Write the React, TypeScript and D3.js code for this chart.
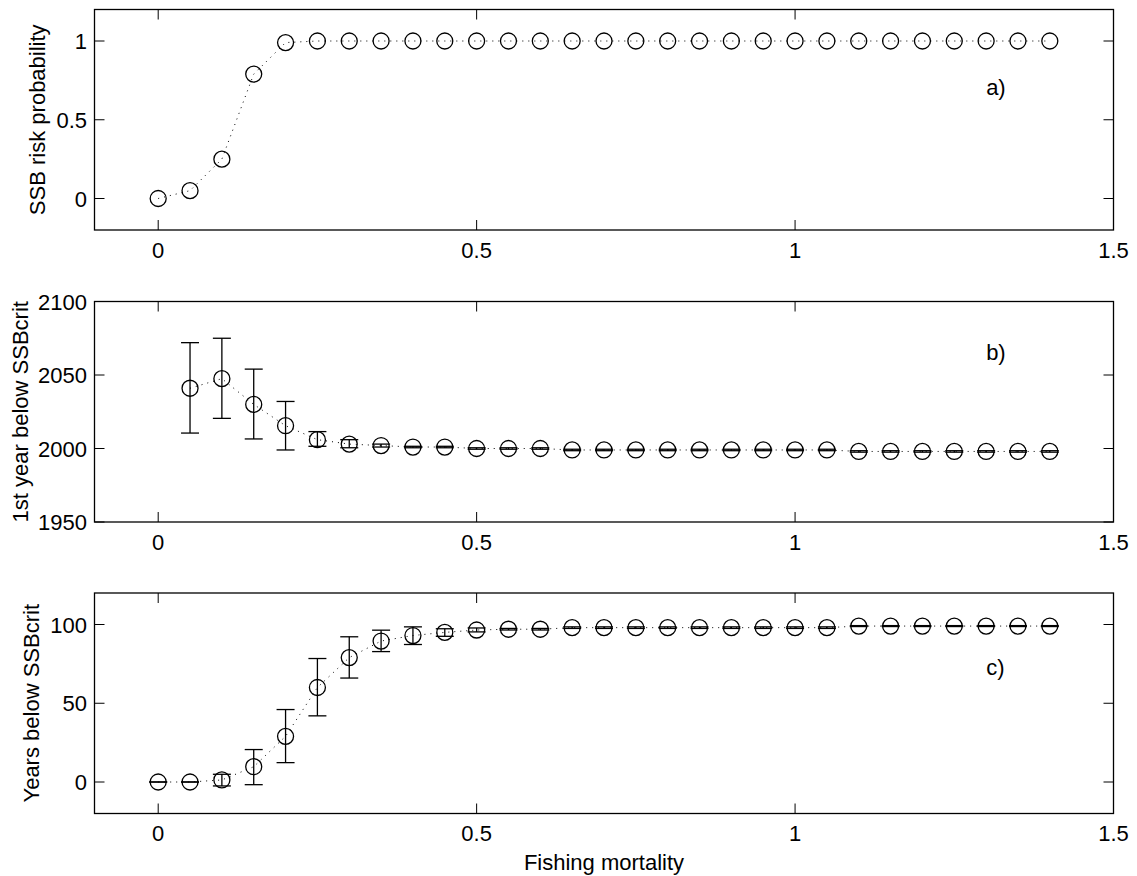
import React from "react";
import * as d3 from "d3";

const fishingMortality = [0, 0.05, 0.1, 0.15, 0.2, 0.25, 0.3, 0.35, 0.4, 0.45, 0.5, 0.55, 0.6, 0.65, 0.7, 0.75, 0.8, 0.85, 0.9, 0.95, 1.0, 1.05, 1.1, 1.15, 1.2, 1.25, 1.3, 1.35, 1.4];

const riskProb = [0, 0.05, 0.25, 0.79, 0.99, 1, 1, 1, 1, 1, 1, 1, 1, 1, 1, 1, 1, 1, 1, 1, 1, 1, 1, 1, 1, 1, 1, 1, 1];

// first year below SSBcrit (starts at F = 0.05)
const firstYearF = fishingMortality.slice(1);
const firstYear = [2041, 2047.5, 2030, 2015.5, 2006, 2003, 2002, 2001, 2001, 2000, 2000, 2000, 1999, 1999, 1999, 1999, 1999, 1999, 1999, 1999, 1999, 1998, 1998, 1998, 1998, 1998, 1998, 1998];
const firstYearLo = [2010.5, 2020.5, 2006.5, 1999, 2001.5, 2000.5, 2001, 2000.5, 2000.5, 1999.5, 1999.5, 1999.5, 1998.5, 1998.5, 1998.5, 1998.5, 1998.5, 1998.5, 1998.5, 1998.5, 1998.5, 1997.5, 1997.5, 1997.5, 1997.5, 1997.5, 1997.5, 1997.5];
const firstYearHi = [2072, 2075, 2054, 2032, 2011.5, 2006, 2003, 2001.5, 2001.5, 2000.5, 2000.5, 2000.5, 1999.5, 1999.5, 1999.5, 1999.5, 1999.5, 1999.5, 1999.5, 1999.5, 1999.5, 1998.5, 1998.5, 1998.5, 1998.5, 1998.5, 1998.5, 1998.5];

const yearsBelow = [0, 0, 1.3, 9.7, 29, 60, 79, 89.5, 93, 95, 96.5, 97, 97, 98, 98, 98, 98, 98, 98, 98, 98, 98, 99, 99, 99, 99, 99, 99, 99];
const yearsBelowLo = [0, 0, -2.5, -1.7, 12.3, 42, 66, 82.8, 87.3, 92.5, 95.3, 96.5, 96.5, 97.5, 97.5, 97.5, 97.5, 97.5, 97.5, 97.5, 97.5, 97.5, 98.7, 98.7, 98.7, 98.7, 98.7, 98.7, 98.7];
const yearsBelowHi = [0, 0, 4.9, 20.6, 46, 78.4, 92.2, 96.4, 98.5, 97.3, 97.8, 97.5, 97.5, 98.5, 98.5, 98.5, 98.5, 98.5, 98.5, 98.5, 98.5, 98.5, 99.3, 99.3, 99.3, 99.3, 99.3, 99.3, 99.3];

const xTicks = [0, 0.5, 1, 1.5];
const xTickLabels = ["0", "0.5", "1", "1.5"];
const yTicksA = [0, 0.5, 1];
const yTicksB = [1950, 2000, 2050, 2100];
const yTicksC = [0, 50, 100];

const W = 1137;
const H = 876;
const LEFT = 94.5;
const RIGHT = 1113.5;
const PH = 220.5;
const FONT = "'Liberation Sans', Arial, Helvetica, sans-serif";
const FS = 22;
const TICK = 10;

type PanelProps = {
  top: number;
  yDomain: [number, number];
  yTicks: number[];
  xs: number[];
  ys: number[];
  lo?: number[];
  hi?: number[];
  ylabel: string;
  ylabelX: number;
  letter: string;
  letterY: number;
};

function Panel(p: PanelProps) {
  const x = d3.scaleLinear().domain([-0.1, 1.5]).range([LEFT, RIGHT]);
  const y = d3.scaleLinear().domain(p.yDomain).range([p.top + PH, p.top]);
  const bottom = p.top + PH;
  const line = d3
    .line<number>()
    .x((_, i) => x(p.xs[i]))
    .y((d) => y(d));
  const cap = 9;
  const r = 8;
  return (
    <g>
      <rect x={LEFT} y={p.top} width={RIGHT - LEFT} height={PH} fill="white" stroke="black" strokeWidth={1.3} />
      {xTicks.map((t) => (
        <g key={"xt" + t}>
          <line x1={x(t)} x2={x(t)} y1={bottom} y2={bottom - TICK} stroke="black" strokeWidth={1} />
          <line x1={x(t)} x2={x(t)} y1={p.top} y2={p.top + TICK} stroke="black" strokeWidth={1} />
        </g>
      ))}
      {xTicks.map((t, i) => (
        <text key={"xl" + t} x={x(t)} y={bottom + 27.5} textAnchor="middle" fontFamily={FONT} fontSize={FS}>
          {xTickLabels[i]}
        </text>
      ))}
      {p.yTicks.map((t) => (
        <g key={"yt" + t}>
          <line x1={LEFT} x2={LEFT + TICK} y1={y(t)} y2={y(t)} stroke="black" strokeWidth={1} />
          <line x1={RIGHT} x2={RIGHT - TICK} y1={y(t)} y2={y(t)} stroke="black" strokeWidth={1} />
          <text x={LEFT - 7.5} y={y(t) + 8} textAnchor="end" fontFamily={FONT} fontSize={FS}>
            {String(t)}
          </text>
        </g>
      ))}
      <path d={line(p.ys) || ""} fill="none" stroke="black" strokeWidth={1} strokeDasharray="1 5" />
      {p.lo &&
        p.hi &&
        p.ys.map((_, i) => (
          <g key={"e" + i} stroke="black" strokeWidth={1.3}>
            <line x1={x(p.xs[i])} x2={x(p.xs[i])} y1={y(p.lo![i])} y2={y(p.hi![i])} />
            <line x1={x(p.xs[i]) - cap} x2={x(p.xs[i]) + cap} y1={y(p.lo![i])} y2={y(p.lo![i])} />
            <line x1={x(p.xs[i]) - cap} x2={x(p.xs[i]) + cap} y1={y(p.hi![i])} y2={y(p.hi![i])} />
          </g>
        ))}
      {p.ys.map((v, i) => (
        <circle key={"c" + i} cx={x(p.xs[i])} cy={y(v)} r={r} fill="none" stroke="black" strokeWidth={1.3} />
      ))}
      <text
        transform={`translate(${p.ylabelX}, ${p.top + PH / 2}) rotate(-90)`}
        textAnchor="middle"
        fontFamily={FONT}
        fontSize={FS}
      >
        {p.ylabel}
      </text>
      <text x={x(1.3)} y={p.letterY} textAnchor="start" fontFamily={FONT} fontSize={FS}>
        {p.letter}
      </text>
    </g>
  );
}

export default function App() {
  return (
    <svg
      width={W}
      height={H}
      viewBox={`0 0 ${W} ${H}`}
      style={{ position: "absolute", left: 0, top: 0, display: "block", background: "white" }}
    >
      <rect x={0} y={0} width={W} height={H} fill="white" />
      <Panel
        top={9.5}
        yDomain={[-0.2, 1.2]}
        yTicks={yTicksA}
        xs={fishingMortality}
        ys={riskProb}
        ylabel="SSB risk probability"
        ylabelX={44.5}
        letter="a)"
        letterY={95}
      />
      <Panel
        top={301.5}
        yDomain={[1950, 2100]}
        yTicks={yTicksB}
        xs={firstYearF}
        ys={firstYear}
        lo={firstYearLo}
        hi={firstYearHi}
        ylabel="1st year below SSBcrit"
        ylabelX={28}
        letter="b)"
        letterY={360}
      />
      <Panel
        top={593}
        yDomain={[-20, 120]}
        yTicks={yTicksC}
        xs={fishingMortality}
        ys={yearsBelow}
        lo={yearsBelowLo}
        hi={yearsBelowHi}
        ylabel="Years below SSBcrit"
        ylabelX={38.5}
        letter="c)"
        letterY={675}
      />
      <text x={(LEFT + RIGHT) / 2} y={870} textAnchor="middle" fontFamily={FONT} fontSize={FS}>
        Fishing mortality
      </text>
    </svg>
  );
}
